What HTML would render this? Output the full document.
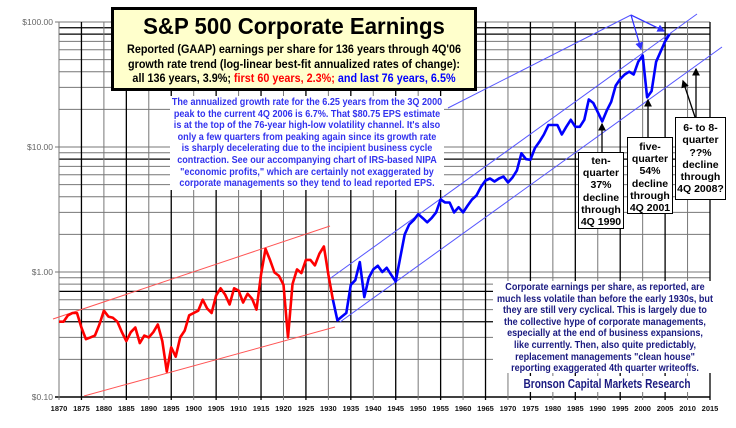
<!DOCTYPE html>
<html><head><meta charset="utf-8"><style>
body{margin:0;background:#fff;width:736px;height:428px;overflow:hidden;font-family:"Liberation Sans",Arial,sans-serif}
svg{position:absolute;left:0;top:0}
.box{position:absolute;box-sizing:border-box;text-align:center;font-weight:bold}
.fit{position:absolute;left:50%;white-space:nowrap;transform-origin:center top;text-align:center}
</style></head><body>
<svg id="chart" width="736" height="428" viewBox="0 0 736 428"></svg>

<div class="box" style="left:111px;top:7px;width:366px;height:84px;background:#ffffcc;border:3px solid #000;">
<div class="fit" data-w="302" style="top:3px;font-size:23px;line-height:26px">S&amp;P 500 Corporate Earnings</div>
<div class="fit" data-w="334" style="top:32px;font-size:12px;line-height:14.5px">Reported (GAAP) earnings per share for 136 years through 4Q'06<br>growth rate trend (log-linear best-fit annualized rates of change):<br>all 136 years, 3.9%; <span style="color:#f00">first 60 years, 2.3%;</span> <span style="color:#00f">and last 76 years, 6.5%</span></div>
</div>

<div class="box" style="left:170px;top:96px;width:274px;height:94px;background:#fff;color:#3333ee;">
<div class="fit" data-w="270" style="top:1px;font-size:10.5px;line-height:11.6px">The annualized growth rate for the 6.25 years from the 3Q 2000<br>peak to the current 4Q 2006 is 6.7%. That $80.75 EPS estimate<br>is at the top of the 76-year high-low volatility channel. It's also<br>only a few quarters from peaking again since its growth rate<br>is sharply decelerating due to the incipient business cycle<br>contraction. See our accompanying chart of IRS-based NIPA<br>"economic profits," which are certainly not exaggerated by<br>corporate managements so they tend to lead reported EPS.</div></div>

<div class="box" style="left:493px;top:281px;width:224px;height:92px;background:#fff;color:#1a1a80;">
<div class="fit" data-w="216" style="top:1px;font-size:10.5px;line-height:11.6px">Corporate earnings per share, as reported, are<br>much less volatile than before the early 1930s, but<br>they are still very cyclical. This is largely due to<br>the collective hype of corporate managements,<br>especially at the end of business expansions,<br>like currently. Then, also quite predictably,<br>replacement managements "clean house"<br>reporting exaggerated 4th quarter writeoffs.</div></div>

<div class="box" style="left:510px;top:376px;width:194px;height:16px;background:#fff;color:#1a1a80;">
<div class="fit" data-w="167" style="top:0;font-size:12.5px;line-height:16px">Bronson Capital Markets Research</div></div>

<div class="box" style="left:578px;top:152px;width:46px;height:77px;background:#fff;border:1.5px solid #000;font-size:10.5px;line-height:12.2px;padding-top:2px">ten-<br>quarter<br>37%<br>decline<br>through<br>4Q 1990</div>
<div class="box" style="left:627px;top:137px;width:46px;height:77px;background:#fff;border:1.5px solid #000;font-size:10.5px;line-height:12.2px;padding-top:3px">five-<br>quarter<br>54%<br>decline<br>through<br>4Q 2001</div>
<div class="box" style="left:675px;top:117px;width:51px;height:83px;background:#fff;border:1.5px solid #000;font-size:10.5px;line-height:12.3px;padding-top:4px">6- to 8-<br>quarter<br>??%<br>decline<br>through<br>4Q 2008?</div>

<script>
const redYears=[1870,1871,1872,1873,1874,1875,1876,1877,1878,1879,1880,1881,1882,1883,1884,1885,1886,1887,1888,1889,1890,1891,1892,1893,1894,1895,1896,1897,1898,1899,1900,1901,1902,1903,1904,1905,1906,1907,1908,1909,1910,1911,1912,1913,1914,1915,1916,1917,1918,1919,1920,1921,1922,1923,1924,1925,1926,1927,1928,1929,1930,1931];
const redEPS=[0.40,0.40,0.45,0.47,0.47,0.36,0.29,0.30,0.31,0.38,0.49,0.44,0.43,0.40,0.33,0.28,0.33,0.36,0.27,0.31,0.30,0.33,0.38,0.28,0.16,0.25,0.21,0.30,0.34,0.45,0.47,0.49,0.60,0.51,0.47,0.65,0.74,0.66,0.55,0.74,0.71,0.57,0.67,0.61,0.50,0.95,1.53,1.25,0.99,0.93,0.79,0.30,0.80,1.05,0.98,1.25,1.25,1.13,1.40,1.60,0.95,0.60];
const blueYears=[1931,1932,1933,1934,1935,1936,1937,1938,1939,1940,1941,1942,1943,1944,1945,1946,1947,1948,1949,1950,1951,1952,1953,1954,1955,1956,1957,1958,1959,1960,1961,1962,1963,1964,1965,1966,1967,1968,1969,1970,1971,1972,1973,1974,1975,1976,1977,1978,1979,1980,1981,1982,1983,1984,1985,1986,1987,1988,1989,1990,1991,1992,1993,1994,1995,1996,1997,1998,1999,2000,2001,2002,2003,2004,2005,2006];
const blueEPS=[0.60,0.41,0.44,0.47,0.79,0.86,1.20,0.63,0.90,1.05,1.12,1.0,1.08,0.95,0.84,1.3,2.0,2.4,2.6,2.9,2.7,2.5,2.7,3.0,3.8,3.6,3.6,3.0,3.3,3.0,3.4,3.8,4.1,4.8,5.4,5.6,5.3,5.6,5.8,5.2,5.7,6.5,8.9,8.0,7.9,9.8,11.0,12.6,15.0,15.0,15.0,12.6,14.5,16.5,14.5,14.5,16.5,24.0,22.5,19.0,16.0,19.5,23.0,31.0,35.0,38.0,40.0,38.0,48.0,54.0,25.0,28.0,48.0,58.0,70.0,80.0];
const xTicks=[1870,1875,1880,1885,1890,1895,1900,1905,1910,1915,1920,1925,1930,1935,1940,1945,1950,1955,1960,1965,1970,1975,1980,1985,1990,1995,2000,2005,2010,2015];
const yTickValues=[0.1,1,10,100];
const yTickLabels=["$0.10","$1.00","$10.00","$100.00"];
const minorMults=[2,3,4,5,6,7,8,9];
const darkMinor=[90,80,8,0.7,0.4];

// fit text blocks to their measured widths in the reference
document.querySelectorAll('.fit').forEach(el=>{
  const w=el.offsetWidth;const t=+el.getAttribute('data-w');
  el.style.transform='translateX(-50%) scaleX('+(t/w)+')';
});

const NS="http://www.w3.org/2000/svg";
const svg=document.getElementById('chart');
const X0=59,X1=710,Y100=22,DEC=125;
function xs(yr){return X0+(yr-1870)*(X1-X0)/145;}
function ys(v){return Y100+(2-Math.log10(v))*DEC;}
function mk(tag,attrs,parent){const e=document.createElementNS(NS,tag);for(const k in attrs)e.setAttribute(k,attrs[k]);(parent||svg).appendChild(e);return e;}

const grid=mk('g',{});


[0.1,1,10].forEach(d=>minorMults.forEach(m=>{
  const v=d*m;const dark=darkMinor.some(x=>Math.abs(x-v)<1e-6);
  mk('line',{x1:X0,x2:X1,y1:ys(v),y2:ys(v),stroke:dark?'#000':'#777','stroke-width':dark?1.3:1},grid);
}));
yTickValues.forEach((v,i)=>{
  mk('line',{x1:X0-4,x2:X1,y1:ys(v),y2:ys(v),stroke:i===0?'#000':'#777','stroke-width':i===0?1.5:1},grid);
  const t=mk('text',{x:X0-6,y:ys(v)+3,'text-anchor':'end','font-size':8.5,fill:'#666','font-family':'Liberation Sans, sans-serif'});
  t.textContent=yTickLabels[i];
  
  
});
xTicks.forEach(yr=>{
  const dark=yr%10===5;
  mk('line',{x1:xs(yr),x2:xs(yr),y1:Y100,y2:ys(0.1)+3,stroke:dark?'#000':'#777','stroke-width':dark?1.3:1},grid);
  const t=mk('text',{x:xs(yr),y:411,'text-anchor':'middle','font-size':7.5,'font-weight':'bold',fill:'#111','font-family':'Liberation Sans, sans-serif'});
  t.textContent=yr;
  
  
});

function chan(x1,y1,x2,y2,c,name){const l=mk('line',{x1:x1,y1:y1,x2:x2,y2:y2,stroke:c,'stroke-width':1});
  
  }
chan(53,319,330,226,'#ff5555','red-channel-upper');
chan(84,396,335,327,'#ff5555','red-channel-lower');
chan(328,280,697,14,'#5555ff','blue-channel-upper');
chan(340,322,722,47,'#5555ff','blue-channel-lower');
chan(448,108,631,15,'#5555ff','pointer-line');

function series(yrs,vals,c,name){
  const d=yrs.map((y,i)=>(i?'L':'M')+xs(y).toFixed(1)+','+ys(vals[i]).toFixed(1)).join(' ');
  const p=mk('path',{d:d,fill:'none',stroke:c,'stroke-width':2.6,'stroke-linejoin':'round'});
  
  
}
series(redYears,redEPS,'#ff0000','eps-line-1870-1931');
series(blueYears,blueEPS,'#0000ff','eps-line-1931-2006');

const defs=mk('defs',{});
const mb=mk('marker',{id:'ab',markerWidth:6,markerHeight:6,refX:5,refY:3,orient:'auto'},defs);mk('path',{d:'M0,0 L6,3 L0,6 z',fill:'#000'},mb);
const mu=mk('marker',{id:'au',markerWidth:6,markerHeight:6,refX:5,refY:3,orient:'auto'},defs);mk('path',{d:'M0,0 L6,3 L0,6 z',fill:'#3333ff'},mu);
function arrow(x1,y1,x2,y2,c,m,name){const a=mk('line',{x1:x1,y1:y1,x2:x2,y2:y2,stroke:c,'stroke-width':1.3,'marker-end':'url(#'+m+')'});
  
  }
arrow(631,15,641,49,'#3333ff','au','arrow-2000-peak');
arrow(631,15,664,31,'#3333ff','au','arrow-2006-peak');
arrow(602,152,602,124,'#000','ab','arrow-1990');
arrow(648,137,648,100,'#000','ab','arrow-2001');
arrow(695,117,683,81,'#000','ab','arrow-2008-a');
arrow(696,117,696,69,'#000','ab','arrow-2008-b');
</script>
</body></html>
